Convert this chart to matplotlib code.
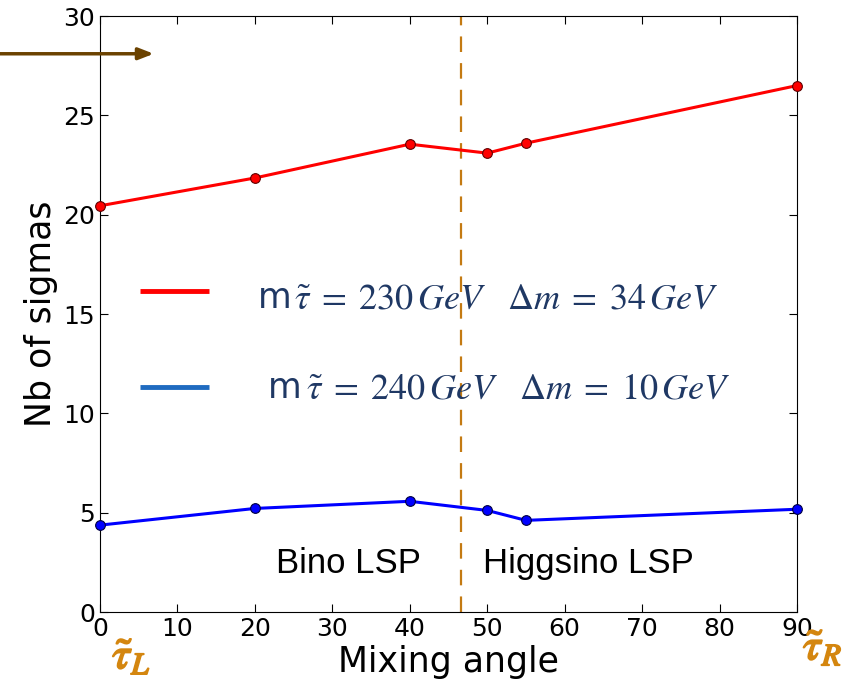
import matplotlib.pyplot as plt
import matplotlib.patheffects as pe

plt.rcParams['mathtext.fontset'] = 'stix'

# mixing angle (deg) and significance
angles = [0, 20, 40, 50, 55, 90]
sig_230 = [20.45, 21.85, 23.55, 23.1, 23.6, 26.5]
sig_240 = [4.38, 5.22, 5.58, 5.12, 4.62, 5.18]
xticks = list(range(0, 91, 10))
yticks = list(range(0, 31, 5))
boundary = 46.6
arrow_y = 28.1

label_230 = r"$\tilde{\tau}\;=\;230\,GeV\ \ \ \Delta m\;=\;34\,GeV$"
label_240 = r"$\tilde{\tau}\;=\;240\,GeV\ \ \ \Delta m\;=\;10\,GeV$"

fig = plt.figure(figsize=(8.57, 6.84), dpi=100)
ax = fig.add_axes([0.1167, 0.105, 0.8133, 0.8716])

ax.plot(angles, sig_230, color='red', lw=2.2, marker='o', ms=7,
        mfc='red', mec='#600000', mew=0.8, clip_on=False, zorder=3)
ax.plot(angles, sig_240, color='blue', lw=2.2, marker='o', ms=7,
        mfc='blue', mec='#000040', mew=0.8, clip_on=False, zorder=3)

ax.axvline(boundary, color='#c47a12', lw=1.6, ls=(0, (7, 5)))

ax.set_xlim(0, 90)
ax.set_ylim(0, 30)
ax.set_xticks(xticks)
ax.set_yticks(yticks)
ax.tick_params(direction='in', top=True, right=True, labelsize=18, length=6)
ax.set_xlabel('Mixing angle', fontsize=25, labelpad=3)
ax.set_ylabel('Nb of sigmas', fontsize=25, labelpad=4)

# hand-drawn legend
navy = '#1f3864'
ax.plot([5.2, 14.1], [16.15, 16.15], color='red', lw=3.5, solid_capstyle='butt')
ax.plot([5.2, 14.1], [11.35, 11.35], color='#1f6bc0', lw=3.5, solid_capstyle='butt')
ax.text(20.4, 15.3, 'm', fontsize=25, color=navy, va='baseline')
ax.text(21.7, 10.77, 'm', fontsize=25, color=navy, va='baseline')
ax.text(25.0, 15.3, label_230, fontsize=26, color=navy, va='baseline')
ax.text(26.6, 10.77, label_240, fontsize=26, color=navy, va='baseline')

ax.text(22.7, 2.45, 'Bino LSP', fontsize=25, va='center',
        family='Liberation Sans')
ax.text(49.4, 2.45, 'Higgsino LSP', fontsize=25, va='center',
        family='Liberation Sans')

# arrow on top-left edge
ax.annotate('', xy=(7.3, arrow_y), xytext=(-13.5, arrow_y),
            xycoords='data', annotation_clip=False,
            arrowprops=dict(arrowstyle='-|>,head_length=0.9,head_width=0.35',
                            color='#6b4200', lw=2.5))

orange = '#d4860f'
bold = [pe.withStroke(linewidth=1.3, foreground=orange)]
fig.text(0.131, 0.023, r'$\tilde{\tau}_{L}$', fontsize=32, color=orange,
         va='baseline', path_effects=bold)
fig.text(0.937, 0.036, r'$\tilde{\tau}_{R}$', fontsize=32, color=orange,
         va='baseline', path_effects=bold)

fig.savefig('out.png', dpi=100)
